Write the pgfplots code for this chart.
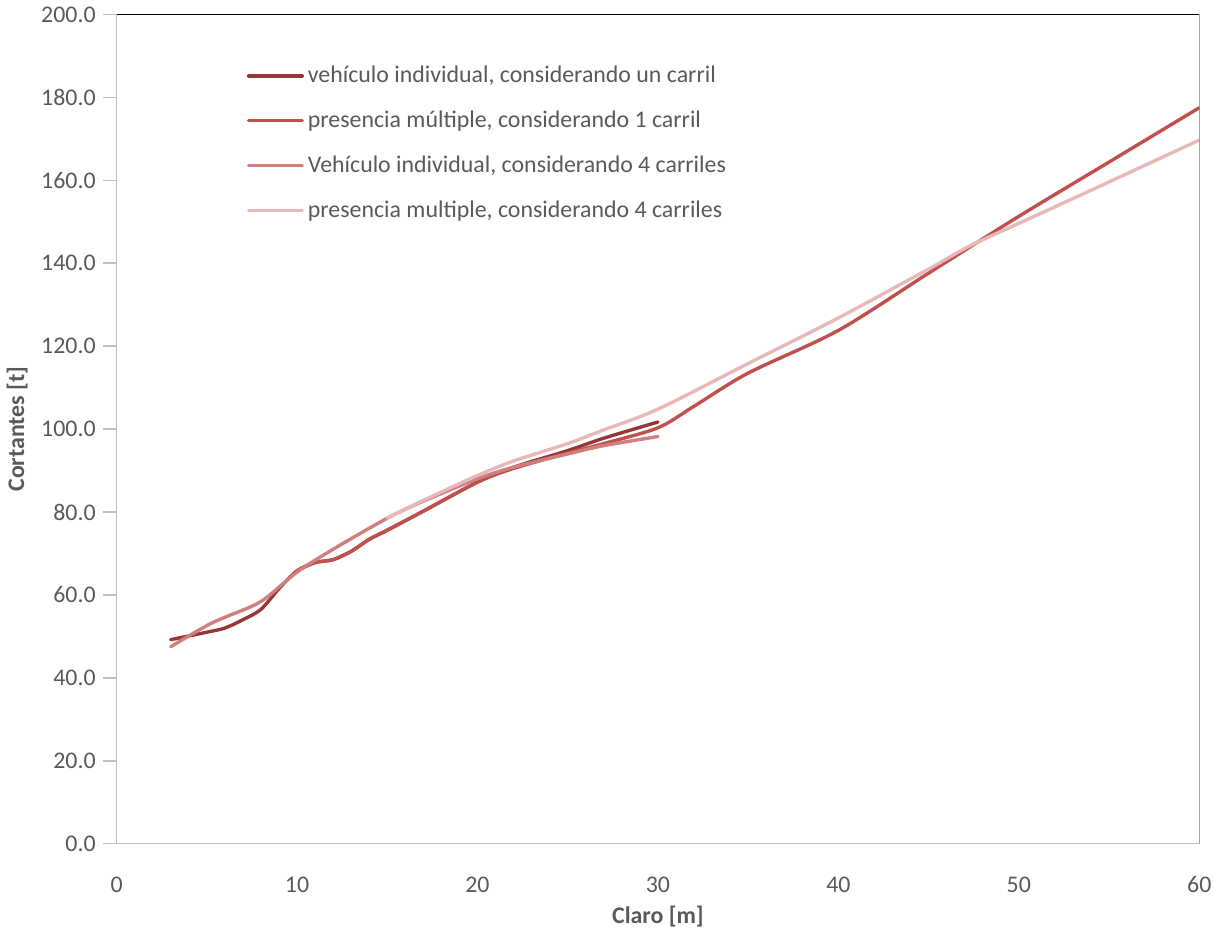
\documentclass[border=0pt]{standalone}
\usepackage{pgfplots}
\pgfplotsset{compat=1.18}
\usepackage{fontspec}
\setmainfont{Carlito}
\definecolor{sA}{HTML}{953735}
\definecolor{sB}{HTML}{C0504D}
\definecolor{sC}{HTML}{D07F7D}
\definecolor{sD}{HTML}{E6B9B8}
\definecolor{txt}{HTML}{595959}
\definecolor{ax}{HTML}{BFBFBF}
\begin{document}
\begin{tikzpicture}
\begin{axis}[
  scale only axis,
  width=544.5pt, height=417pt,
  xmin=0, xmax=60, ymin=0, ymax=200,
  xtick={0,10,...,60},
  ytick={0,20,...,200},
  axis lines*=left,
  axis line style={draw=ax, line width=0.8pt},
  x axis line style={-}, y axis line style={-},
  xtick style={draw=none},
  ytick style={draw=ax, line width=0.8pt},
  tick align=outside,
  major tick length=7pt,
  yticklabel style={/pgf/number format/.cd, fixed, fixed zerofill, precision=1},
  /pgf/number format/assume math mode=true,
  ticklabel style={font=\fontsize{12}{14}\selectfont, text=txt},
  xticklabel style={yshift=-6pt},
  xlabel={\textbf{Claro [m]}},
  ylabel={\textbf{Cortantes [t]}},
  label style={font=\fontsize{12}{14}\selectfont, text=txt},
  xlabel style={yshift=0pt},
  ylabel style={yshift=0pt},
  legend cell align=left,
  legend style={draw=none, fill=none, at={(axis description cs:0.12,0.943)}, anchor=north west,
    font=\fontsize{12}{14}\selectfont, text=txt, row sep=8.7pt, inner sep=0pt},
  legend image code/.code={\draw[#1, line cap=round] (0pt,0pt) -- (27pt,0pt);},
  every axis plot/.append style={line width=1.7pt, smooth, tension=0.5, line cap=round},
]
% vehiculo individual, un carril
\addplot[sA] coordinates {
 (3,49.2) (5,51.0) (6,52.0) (7,54.0) (8,56.5) (9,61.5) (10,65.8) (11,67.8) (12,68.5) (13,70.5) (14,73.4) (15,75.6)
 (17,80.2) (20,87.2) (22,90.8) (25,94.8) (27,97.8) (30,101.7)};
\addlegendentry{vehículo individual, considerando un carril}
% presencia multiple, 1 carril
\addplot[sB] coordinates {
 (10,65.8) (11,67.8) (12,68.5) (13,70.5) (14,73.4) (15,75.6)
 (17,80.2) (20,87.2) (22,90.5) (25,94.2) (27,96.5) (30,100.3) (32,105.5) (35,113.5) (40,123.8) (45,137.6) (50,151.3) (55,164.4) (60,177.5)};
\addlegendentry{presencia múltiple, considerando 1 carril}
% Vehiculo individual, 4 carriles
\addplot[sC] coordinates {
 (3,47.5) (5,52.6) (6,54.6) (8,58.4) (10,65.5) (12,71.0) (15,78.5) (17,82.6) (20,88.0) (22,90.8) (25,94.0) (27,96.0) (30,98.2)};
\addlegendentry{Vehículo individual, considerando 4 carriles}
% presencia multiple, 4 carriles
\addplot[sD] coordinates {
 (15,78.5) (17,82.8) (20,88.8) (22,92.3) (25,96.5) (27,99.8) (30,104.8) (35,115.8) (40,126.8) (45,138.6) (47.3,144.2) (50,149.6) (55,159.6) (60,169.7)};
\addlegendentry{presencia multiple, considerando 4 carriles}
\draw[black, line width=0.6pt] (rel axis cs:0,1) -- (rel axis cs:1,1) -- (rel axis cs:1,0);
\end{axis}
\end{tikzpicture}
\end{document}
